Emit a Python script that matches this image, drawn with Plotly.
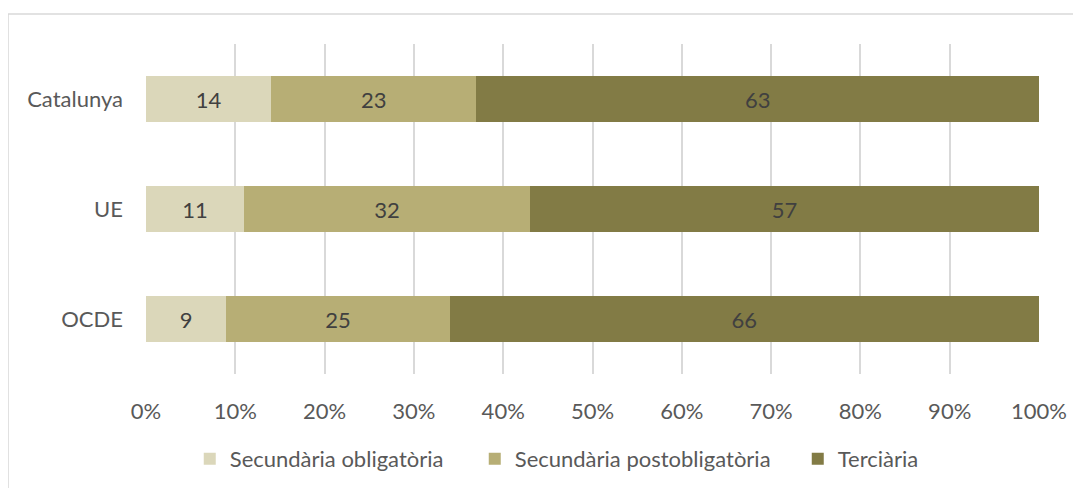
import plotly.graph_objects as go

categories = ["Catalunya", "UE", "OCDE"]
series_names = ["Secundària obligatòria", "Secundària postobligatòria", "Terciària"]
sec_oblig = [14, 11, 9]
sec_postoblig = [23, 32, 25]
terciaria = [63, 57, 66]
x_ticks = [0, 10, 20, 30, 40, 50, 60, 70, 80, 90, 100]
x_tick_labels = [f"{v}%" for v in x_ticks]

colors = ["#DBD7BA", "#B7AE75", "#827B45"]
legend_widths = [240, 278, 110]
font_family = "Lato, 'Open Sans', sans-serif"

fig = go.Figure()
for name, vals, col, lw in zip(series_names, [sec_oblig, sec_postoblig, terciaria], colors, legend_widths):
    fig.add_trace(go.Bar(
        y=categories, x=vals, name=name, orientation="h",
        marker=dict(color=col, line=dict(width=0)),
        text=[str(v) for v in vals], textposition="inside",
        insidetextanchor="middle",
        textfont=dict(color="#404040", size=22, family=font_family),
        width=0.41,
        legendwidth=lw,
    ))

fig.update_layout(
    barmode="stack",
    width=1073, height=480,
    margin=dict(l=138, r=42, t=36, b=114, autoexpand=False),
    paper_bgcolor="white", plot_bgcolor="white",
    font=dict(family=font_family, color="#595959", size=22),
    xaxis=dict(range=[0, 100], tickvals=x_ticks, ticktext=x_tick_labels,
               showgrid=True, gridcolor="#D9D9D9", gridwidth=1.5,
               zeroline=False, showline=False, ticks="",
               ticklabelstandoff=22,
               tickfont=dict(size=22, color="#595959")),
    yaxis=dict(autorange="reversed", showgrid=False, zeroline=False,
               ticks="", ticklen=0, tickfont=dict(size=22, color="#595959"),
               ticklabelstandoff=22),
    legend=dict(orientation="h", x=0.049, xanchor="left", y=-0.2576, yanchor="middle",
                font=dict(size=22, color="#595959"), traceorder="normal"),
    showlegend=True,
    uniformtext=dict(mode=False),
    shapes=[dict(type="rect", xref="paper", yref="paper",
                 x0=-0.1545, x1=1.2, y0=-0.6, y1=1.0909,
                 line=dict(color="#D9D9D9", width=1.5), fillcolor="rgba(0,0,0,0)", layer="below")],
)

fig.write_html("out.html")
